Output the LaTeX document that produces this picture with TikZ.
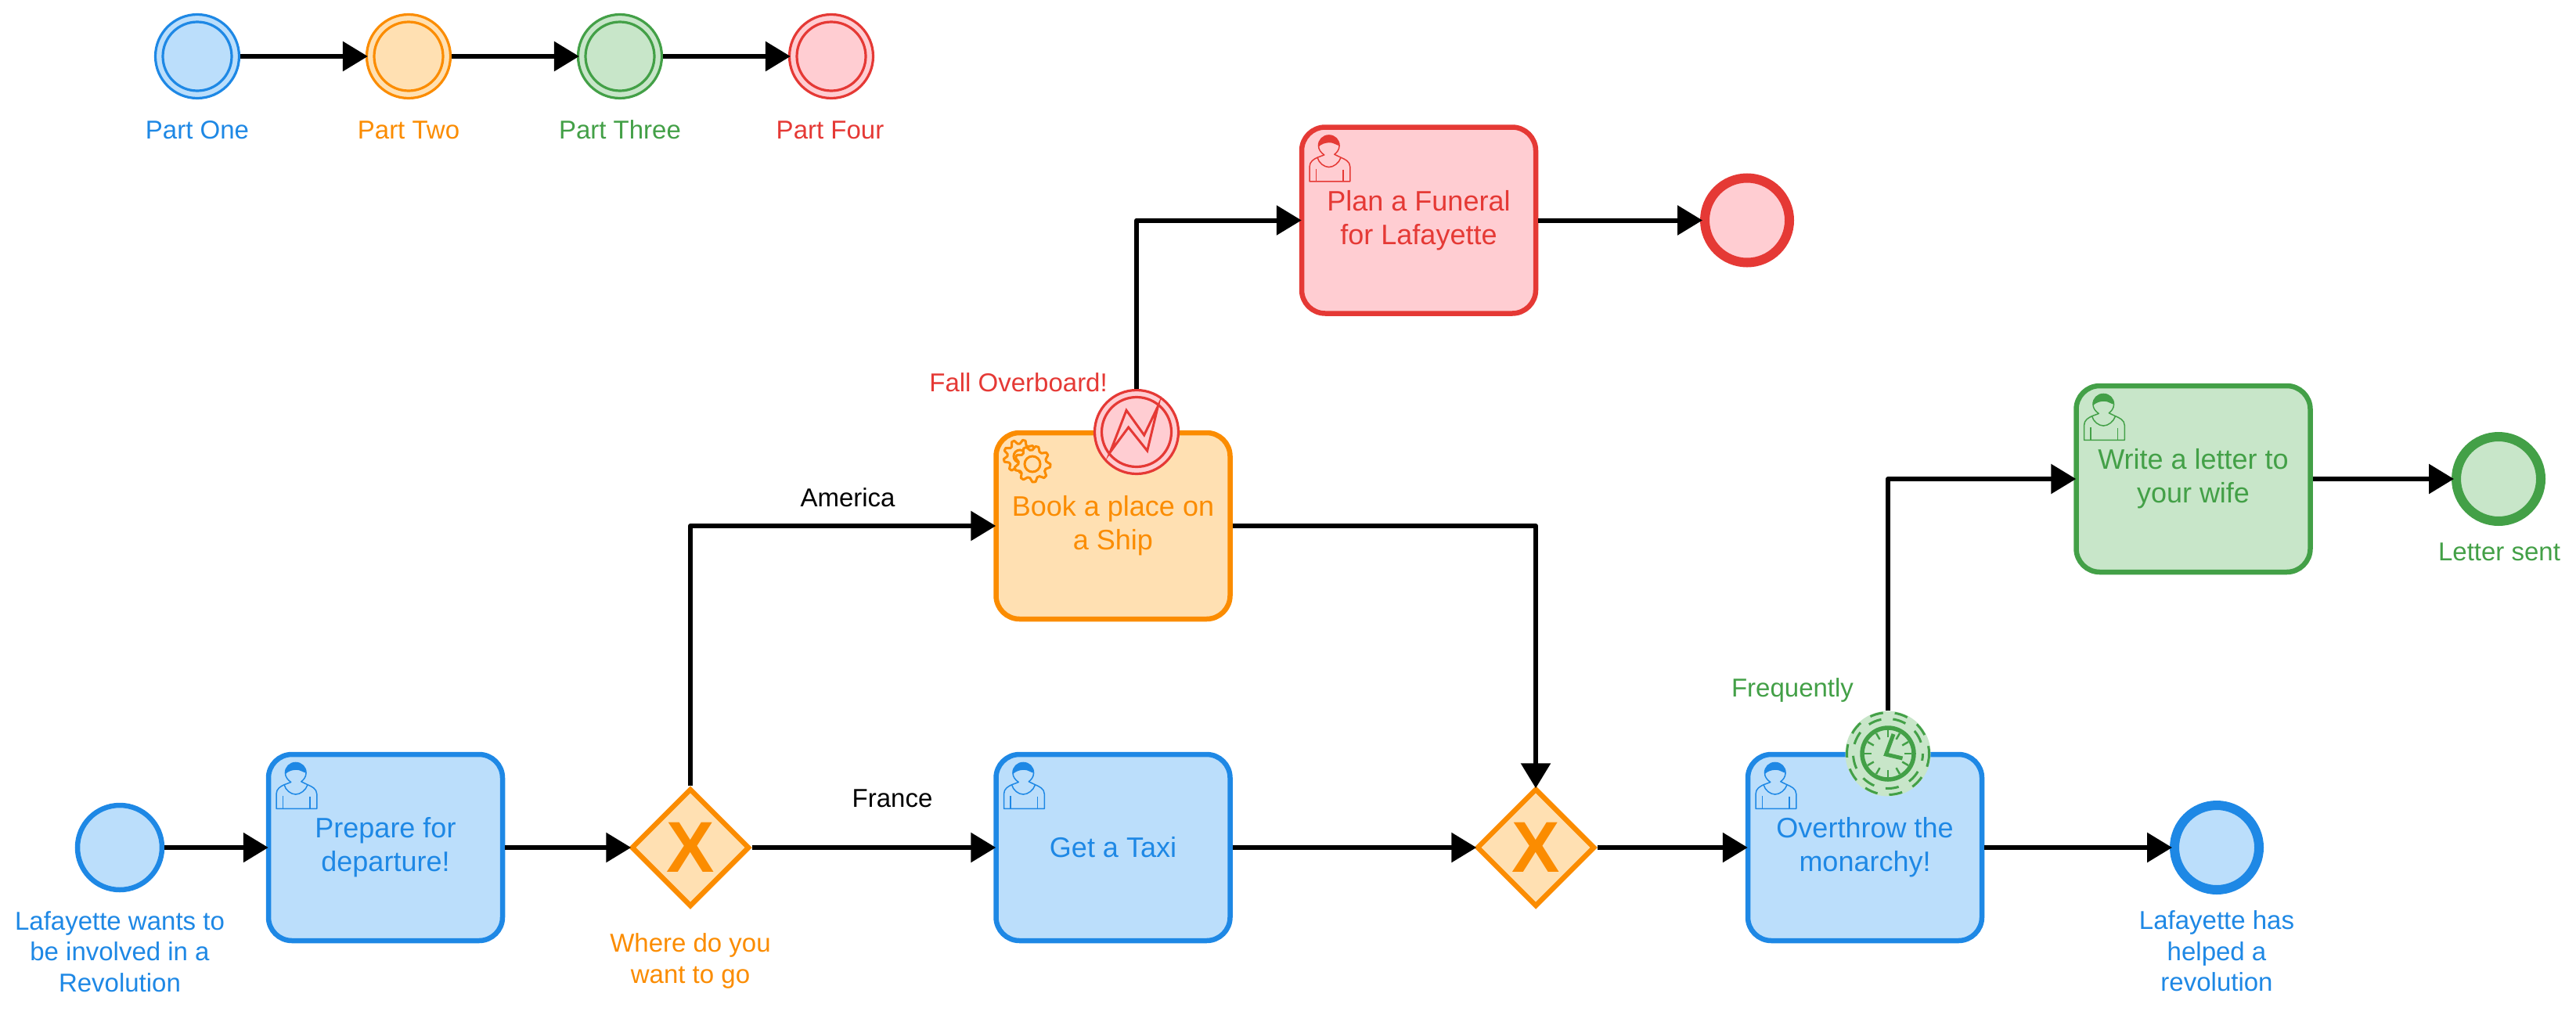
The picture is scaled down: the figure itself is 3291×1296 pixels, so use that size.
\documentclass[tikz,border=0pt]{standalone}
\usepackage{fontspec}
\setmainfont{Liberation Sans}
\usetikzlibrary{arrows.meta,shapes.geometric,calc}
\definecolor{cblue}{HTML}{1E88E5}\definecolor{fcblue}{HTML}{BBDEFB}
\definecolor{corange}{HTML}{FB8C00}\definecolor{fcorange}{HTML}{FFE0B2}
\definecolor{cgreen}{HTML}{43A047}\definecolor{fcgreen}{HTML}{C8E6C9}
\definecolor{cred}{HTML}{E53935}\definecolor{fcred}{HTML}{FFCDD2}
\tikzset{
 taskbox/.style={rectangle,rounded corners=30pt,draw=#1,fill=f#1,text=#1,line width=6.5pt,minimum width=299pt,minimum height=238pt,align=center,inner sep=0pt,font=\fontsize{36}{43}\selectfont},
 flow/.style={draw=black,line width=6pt,line join=round,shorten >=-3pt,-{Triangle[length=32pt,width=37pt]}},
 partev/.style={circle,draw=#1,fill=f#1,line width=3.2pt,minimum size=107pt,inner sep=0pt},
 innerring/.style={draw=#1,line width=3.2pt},
 startev/.style={circle,draw=#1,fill=f#1,line width=6.5pt,minimum size=108pt,inner sep=0pt},
 endev/.style={circle,draw=#1,fill=f#1,line width=12pt,minimum size=108pt,inner sep=0pt},
 gateway/.style={diamond,aspect=1,draw=corange,fill=fcorange,line width=6.5pt,minimum width=151pt,minimum height=151pt,inner sep=0pt,text=corange,font=\fontsize{92}{92}\selectfont\bfseries},
 lab/.style={text=#1,align=center,inner sep=0pt,font=\fontsize{33}{39.5}\selectfont},
 lab/.default=black,
 iconline/.style={draw=#1,line width=1.5pt}
}
\newcommand{\usericon}[2]{%
 \begin{scope}[shift={($(#1.north west)+(38,27)$)}]
 \fill[#2] (-13.3,1.5) .. controls (-13.3,-7.5) and (-7.5,-13.3) .. (0,-13.3) .. controls (7.5,-13.3) and (13.3,-7.5) .. (13.3,0) .. controls (9,-1) and (6,-4) .. (1,-4) .. controls (-5,-4) and (-10,-2) .. (-13.3,1.5) -- cycle;
 \draw[iconline=#2,line join=round] (-24.7,45.7) -- (-24.7,26.7) .. controls (-24.7,20) and (-19,17) .. (-14.7,15) -- (-6,11.7) .. controls (-10,9) and (-13.3,5) .. (-13.3,0) .. controls (-13.3,-7.5) and (-7.5,-13.3) .. (0,-13.3) .. controls (7.5,-13.3) and (13.3,-7.5) .. (13.3,0) .. controls (13.3,5) and (10,9) .. (7,11) -- (15.3,15) .. controls (20,17) and (27,20) .. (27,26.7) -- (27,45.7) -- cycle;
 \draw[iconline=#2] (-14.7,15) .. controls (-13,22) and (-6,27.3) .. (0,27.3) .. controls (6,27.3) and (13,22) .. (15.3,15);
 \draw[iconline=#2] (-16.3,29.3) -- (-16.3,45.7) (18,30.7) -- (18,45.7);
 \end{scope}}
\begin{document}
\begin{tikzpicture}[x=1pt,y=-1pt]
\useasboundingbox (0,0) rectangle (3291,1296);
\fill[white] (0,0) rectangle (3291,1296);
% legend
\node[partev=cblue] (p1) at (252,72) {};
\node[partev=corange] (p2) at (522,72) {};
\node[partev=cgreen] (p3) at (792,72) {};
\node[partev=cred] (p4) at (1062,72) {};
\draw[innerring=cblue] (p1) circle (44);
\draw[innerring=corange] (p2) circle (44);
\draw[innerring=cgreen] (p3) circle (44);
\draw[innerring=cred] (p4) circle (44);
\node[lab=cblue] (l1) at (252,166) {Part One};
\node[lab=corange] (l2) at (522,166) {Part Two};
\node[lab=cgreen] (l3) at (792,166) {Part Three};
\node[lab=cred] (l4) at (1060.5,166) {Part Four};
\draw[flow] (p1) -- (p2);
\draw[flow] (p2) -- (p3);
\draw[flow] (p3) -- (p4);
% tasks
\node[taskbox=cblue] (prep) at (492.5,1083) {Prepare for\\departure!};
\node[taskbox=cblue] (taxi) at (1422,1083) {Get a Taxi};
\node[taskbox=cblue] (over) at (2382.5,1083) {Overthrow the\\monarchy!};
\node[taskbox=corange] (book) at (1422,672) {Book a place on\\a Ship};
\node[taskbox=cred] (plan) at (1812.5,281.5) {Plan a Funeral\\for Lafayette};
\node[taskbox=cgreen] (write) at (2802,612) {Write a letter to\\your wife};
\usericon{prep}{cblue}\usericon{taxi}{cblue}\usericon{over}{cblue}\usericon{plan}{cred}\usericon{write}{cgreen}
% gear icon
\foreach \cx/\cy/\R/\r/\h in {1303/583/21/16/8,1319/593/23/18/10}{
 \draw[corange,fill=fcorange,line width=3pt,line join=round] plot[samples at={0,10,...,350},variable=\t] ({\cx+(mod(\t,40)<=10?\R:\r)*cos(\t)},{\cy+(mod(\t,40)<=10?\R:\r)*sin(\t)}) -- cycle;
 \draw[corange,line width=3pt] (\cx,\cy) circle (\h);
}
% events and gateways
\node[startev=cblue] (start) at (153,1083) {};
\node[endev=cblue] (endb) at (2832,1083) {};
\node[endev=cred] (endr) at (2232,281.5) {};
\node[endev=cgreen] (endg) at (3192,612) {};
\node[gateway] (gw1) at (882,1083) {X};
\node[gateway] (gw2) at (1962,1083) {X};
% boundary: error
\node[partev=cred] (err) at (1452,552) {};
\draw[innerring=cred] (err) circle (44.5);
\draw[cred,line width=3pt,line join=miter] ($(err)+(-33.7,25.7)$) -- ++(20.7,-53.4) -- ++(22.7,31.7) -- ++(17.6,-36.7) -- ++(-13.6,56.7) -- ++(-24,-30) -- cycle;
% boundary: timer
\node[circle,fill=fcgreen,minimum size=109pt,inner sep=0pt] (timer) at (2412,963) {};
\draw[cgreen,line width=3pt,dash pattern=on 17pt off 15pt] (timer) circle (52.5);
\draw[cgreen,line width=3pt,dash pattern=on 17pt off 15pt,dash phase=8pt] (timer) circle (44.5);
\draw[cgreen,line width=5.5pt] (timer) circle (33);
\foreach \a in {0,30,...,330}{\draw[cgreen,line width=2.5pt] ($(timer)+(\a:21)$) -- ($(timer)+(\a:30)$);}
\draw[cgreen,line width=5pt,line join=miter] ($(timer)+(7,-25)$) -- ($(timer)+(-2.5,1)$) -- ($(timer)+(18.5,6)$);
% flows
\draw[flow] (start) -- (prep);
\draw[flow] (prep) -- (gw1);
\draw[flow] (gw1) -- (taxi);
\draw[flow] (taxi) -- (gw2);
\draw[flow] (gw2) -- (over);
\draw[flow] (over) -- (endb);
\draw[flow] (gw1.north) |- (book.west);
\draw[flow] (book.east) -| (gw2.north);
\draw[flow] (err.north) |- (plan.west);
\draw[flow] (plan) -- (endr);
\draw[flow] (timer.north) |- (write.west);
\draw[flow] (write) -- (endg);
% labels
\node[lab=cblue] (lstart) at (153,1216) {Lafayette wants to\\be involved in a\\Revolution};
\node[lab=corange] (lgw) at (882,1228) {Where do you\\want to go};
\node[lab] (lam) at (1083,636) {America};
\node[lab] (lfr) at (1140,1020) {France};
\node[lab=cred,anchor=east] (lerr) at (1415,489) {Fall Overboard!};
\node[lab=cgreen] (lfreq) at (2290,882) {Frequently};
\node[lab=cblue] (lendb) at (2832,1215.5) {Lafayette has\\helped a\\revolution};
\node[lab=cgreen] (lendg) at (3193,705) {Letter sent};
\end{tikzpicture}
\end{document}
